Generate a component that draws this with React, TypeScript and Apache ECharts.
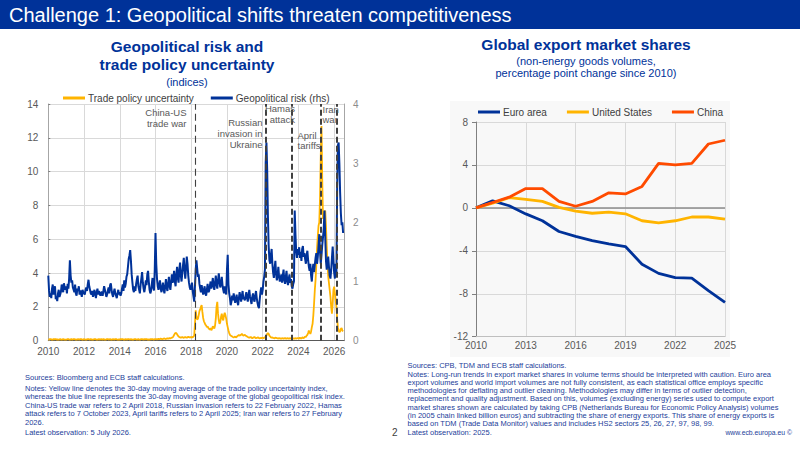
import React, { useEffect, useRef } from "react";
import * as echarts from "echarts";

const FONT = "'Liberation Sans', Arial, Helvetica, sans-serif";
const ECB_BLUE = "#003299";
const YELLOW = "#FFB400";
const ORANGE = "#FF4B00";
const NOTE_BLUE = "#23409a";
const LABEL_GREY = "#595959";
const GRID_GREY = "#d9d9d9";

// ---------- Left chart: semi-monthly observations from 1 January 2010 ----------
const seriesStartYear = 2010;
const observationsPerYear = 24;

// Trade policy uncertainty (lhs, index)
const tradePolicyUncertainty: number[] = [
  // 2010
  0.08, 0.07, 0.09, 0.1, 0.08, 0.06, 0.07, 0.09, 0.08, 0.1, 0.09, 0.07, 0.08, 0.06, 0.07, 0.08, 0.09, 0.07, 0.06, 0.08, 0.09, 0.08, 0.07, 0.06,
  // 2011
  0.07, 0.08, 0.1, 0.09, 0.07, 0.06, 0.08, 0.09, 0.07, 0.08, 0.1, 0.09, 0.08, 0.07, 0.06, 0.08, 0.09, 0.08, 0.07, 0.09, 0.1, 0.08, 0.07, 0.08,
  // 2012
  0.09, 0.08, 0.07, 0.06, 0.08, 0.09, 0.1, 0.08, 0.07, 0.09, 0.08, 0.06, 0.07, 0.08, 0.09, 0.1, 0.08, 0.07, 0.06, 0.08, 0.09, 0.07, 0.08, 0.09,
  // 2013
  0.08, 0.07, 0.09, 0.08, 0.06, 0.07, 0.08, 0.1, 0.09, 0.07, 0.08, 0.09, 0.07, 0.06, 0.08, 0.09, 0.08, 0.07, 0.09, 0.1, 0.08, 0.07, 0.06, 0.08,
  // 2014
  0.07, 0.09, 0.08, 0.1, 0.09, 0.07, 0.06, 0.08, 0.09, 0.08, 0.07, 0.09, 0.1, 0.08, 0.07, 0.09, 0.08, 0.06, 0.07, 0.08, 0.09, 0.1, 0.08, 0.07,
  // 2015
  0.08, 0.09, 0.07, 0.06, 0.08, 0.1, 0.09, 0.08, 0.07, 0.09, 0.08, 0.1, 0.09, 0.07, 0.08, 0.06, 0.07, 0.09, 0.08, 0.1, 0.09, 0.08, 0.07, 0.09,
  // 2016
  0.1, 0.09, 0.08, 0.1, 0.11, 0.09, 0.1, 0.12, 0.11, 0.09, 0.1, 0.12, 0.13, 0.11, 0.1, 0.12, 0.14, 0.12, 0.13, 0.15, 0.14, 0.16, 0.18, 0.2,
  // 2017
  0.25, 0.34, 0.42, 0.47, 0.44, 0.38, 0.3, 0.25, 0.22, 0.2, 0.18, 0.2, 0.22, 0.19, 0.17, 0.2, 0.22, 0.19, 0.18, 0.2, 0.23, 0.21, 0.19, 0.22,
  // 2018
  0.2, 0.22, 0.2, 0.25, 0.3, 1.0, 1.8, 1.4, 1.25, 1.3, 1.5, 1.75, 1.85, 2.0, 2.1, 1.7, 1.35, 1.15, 1.05, 0.95, 0.9, 0.8, 0.85, 0.75,
  // 2019
  0.7, 0.65, 0.75, 0.62, 0.7, 0.85, 0.8, 0.72, 0.9, 1.3, 2.0, 2.3, 1.6, 1.2, 1.0, 1.1, 1.4, 1.6, 1.3, 1.2, 1.5, 1.65, 1.5, 1.3,
  // 2020
  1.0, 0.8, 0.6, 0.45, 0.35, 0.3, 0.28, 0.25, 0.22, 0.2, 0.22, 0.25, 0.2, 0.22, 0.28, 0.3, 0.35, 0.3, 0.32, 0.35, 0.4, 0.35, 0.3, 0.32,
  // 2021
  0.35, 0.3, 0.28, 0.25, 0.22, 0.2, 0.18, 0.2, 0.22, 0.18, 0.15, 0.18, 0.2, 0.22, 0.18, 0.15, 0.16, 0.18, 0.2, 0.15, 0.14, 0.16, 0.15, 0.18,
  // 2022
  0.16, 0.15, 0.18, 0.2, 0.25, 0.3, 0.4, 0.45, 0.4, 0.3, 0.25, 0.2, 0.18, 0.2, 0.16, 0.15, 0.14, 0.18, 0.16, 0.15, 0.14, 0.13, 0.15, 0.14,
  // 2023
  0.12, 0.14, 0.13, 0.15, 0.12, 0.14, 0.16, 0.13, 0.12, 0.15, 0.14, 0.12, 0.13, 0.15, 0.12, 0.14, 0.13, 0.12, 0.14, 0.12, 0.15, 0.13, 0.14, 0.15,
  // 2024
  0.15, 0.12, 0.18, 0.15, 0.12, 0.2, 0.18, 0.15, 0.2, 0.25, 0.22, 0.3, 0.35, 0.45, 0.6, 0.5, 0.4, 0.55, 0.8, 1.0, 1.5, 2.2, 3.0, 3.6,
  // 2025
  4.5, 5.5, 6.2, 6.8, 7.0, 8.5, 11.0, 12.7, 9.5, 7.2, 7.3, 7.6, 7.7, 6.8, 5.6, 4.6, 3.8, 3.4, 3.0, 2.6, 2.0, 1.6, 2.2, 3.0,
  // 2026 (to July)
  3.2, 2.8, 2.4, 2.0, 1.3, 0.8, 0.6, 0.5, 0.55, 0.7, 0.75, 0.6, 0.55,
];

// Geopolitical risk (rhs, index)
const geopoliticalRisk: number[] = [
  // 2010
  1.1, 0.85, 0.74, 0.8, 0.72, 0.88, 0.95, 0.78, 0.84, 0.92, 0.7, 0.75, 0.67, 0.8, 0.86, 0.74, 0.78, 0.83, 0.95, 0.88, 0.82, 0.97, 0.9, 0.86,
  // 2011
  0.92, 0.8, 0.96, 0.88, 1.05, 1.36, 1.1, 0.98, 1.02, 0.9, 0.86, 0.82, 0.95, 0.8, 0.76, 0.88, 0.84, 0.92, 0.78, 0.85, 0.8, 0.74, 0.86, 0.82,
  // 2012
  0.8, 0.78, 0.86, 0.9, 0.84, 0.95, 1.03, 0.92, 0.86, 0.8, 0.78, 0.84, 0.74, 0.8, 0.86, 0.78, 0.72, 0.82, 0.88, 0.78, 0.84, 0.8, 0.76, 0.82,
  // 2013
  0.82, 0.76, 0.84, 0.92, 0.86, 0.8, 0.74, 0.78, 0.85, 0.9, 0.8, 0.94, 0.97, 0.86, 0.78, 0.74, 0.82, 0.88, 0.8, 0.76, 0.72, 0.8, 0.86, 0.78,
  // 2014
  0.82, 0.76, 0.8, 0.88, 0.95, 0.84, 1.02, 0.9, 0.96, 1.08, 1.12, 1.25, 1.38, 1.44, 1.53, 1.35, 1.12, 0.98, 0.86, 0.82, 0.92, 0.84, 0.96, 1.04,
  // 2015
  1.1, 0.92, 0.86, 0.8, 0.95, 1.05, 1.16, 0.98, 0.88, 0.82, 0.9, 1.02, 0.94, 1.12, 1.18, 1.0, 0.86, 0.8, 0.84, 0.95, 1.06, 0.9, 0.85, 1.2,
  // 2016
  1.82, 1.3, 1.05, 0.92, 0.86, 0.95, 1.02, 0.88, 0.82, 0.9, 0.98, 0.86, 0.8, 0.92, 1.04, 0.9, 0.84, 0.96, 1.08, 0.92, 0.86, 1.0, 1.12, 0.98,
  // 2017
  1.05, 1.18, 1.0, 0.92, 1.12, 1.25, 1.06, 0.98, 1.2, 1.32, 1.1, 1.0, 1.15, 1.28, 1.4, 1.18, 1.05, 1.22, 1.42, 1.3, 1.1, 0.98, 0.9, 0.86,
  // 2018
  0.9, 0.98, 0.84, 0.75, 0.66, 0.92, 1.2, 1.36, 1.22, 1.08, 1.12, 0.96, 0.88, 0.82, 0.94, 0.86, 0.78, 0.84, 0.92, 0.8, 0.76, 0.86, 0.96, 0.82,
  // 2019
  0.84, 0.92, 1.0, 0.88, 0.96, 1.06, 0.92, 0.86, 0.98, 1.1, 0.95, 0.88, 1.02, 1.14, 1.0, 0.9, 0.96, 1.08, 0.94, 0.86, 0.8, 0.92, 0.84, 0.78,
  // 2020
  1.2, 1.45, 0.95, 0.8, 0.72, 0.6, 0.66, 0.76, 0.68, 0.8, 0.72, 0.64, 0.7, 0.78, 0.66, 0.6, 0.72, 0.82, 0.74, 0.66, 0.76, 0.84, 0.7, 0.74,
  // 2021
  0.68, 0.76, 0.82, 0.72, 0.66, 0.78, 0.86, 0.74, 0.68, 0.62, 0.74, 0.8, 0.7, 0.66, 0.76, 0.84, 0.72, 0.64, 0.58, 0.55, 0.7, 0.82, 0.9, 0.78,
  // 2022
  0.86, 1.0, 1.08, 1.2, 3.0, 3.35, 2.9, 2.1, 1.6, 1.36, 1.3, 1.45, 1.55, 1.3, 1.15, 1.06, 1.22, 1.35, 1.12, 1.02, 1.1, 1.25, 1.08, 1.0,
  // 2023
  1.05, 1.12, 0.98, 1.1, 1.2, 1.02, 0.96, 1.08, 1.18, 1.0, 0.94, 1.05, 1.12, 0.98, 1.04, 0.92, 0.88, 0.96, 1.0, 2.2, 1.8, 1.5, 1.4, 1.55,
  // 2024
  1.45, 1.58, 1.4, 1.5, 1.35, 1.55, 1.6, 1.42, 1.48, 1.38, 1.3, 1.45, 1.52, 1.36, 1.25, 1.18, 1.3, 1.1, 1.0, 1.2, 1.3, 1.16, 1.28, 1.4,
  // 2025
  1.48, 1.3, 1.42, 1.6, 1.8, 1.5, 1.3, 1.45, 1.62, 1.75, 1.9, 2.2, 1.75, 1.35, 1.2, 1.3, 1.42, 1.25, 1.1, 1.05, 1.2, 1.4, 1.59, 1.35,
  // 2026 (to July)
  1.15, 1.05, 1.3, 1.1, 2.6, 3.3, 3.35, 3.0, 2.5, 2.15, 1.95, 2.0, 1.82,
];

const eventLabels = ["China-US\ntrade war", "Russian\ninvasion in\nUkraine", "Hamas\nattack", "April\ntariffs", "Iran\nwar"];
const eventDates = [2018.22, 2022.15, 2023.62, 2025.25, 2026.13];

// ---------- Right chart: global export market shares ----------
const exportYears = ["2010", "2011", "2012", "2013", "2014", "2015", "2016", "2017", "2018", "2019", "2020", "2021", "2022", "2023", "2024", "2025"];
const euroArea = [0, 0.66, 0.2, -0.56, -1.2, -2.2, -2.65, -3.05, -3.35, -3.6, -5.25, -6.1, -6.5, -6.55, -7.7, -8.8];
const unitedStates = [0, 0.45, 0.95, 0.8, 0.6, 0.05, -0.3, -0.5, -0.4, -0.55, -1.2, -1.4, -1.2, -0.85, -0.85, -1.05];
const china = [0, 0.5, 1.0, 1.8, 1.8, 0.6, 0.15, 0.6, 1.4, 1.3, 2.0, 4.15, 4.0, 4.15, 5.95, 6.3];

const leftNotes = [
  "Sources: Bloomberg and ECB staff calculations.",
  "Notes: Yellow line denotes the 30-day moving average of the trade policy uncertainty index,",
  "whereas the blue line represents the 30-day moving average of the global geopolitical risk index.",
  "China-US trade war refers to 2 April 2018, Russian invasion refers to 22 February 2022, Hamas",
  "attack refers to 7 October 2023, April tariffs refers to 2 April 2025; Iran war refers to 27 February",
  "2026.",
  "Latest observation: 5 July 2026.",
];
const rightNotes = [
  "Sources: CPB, TDM and ECB staff calculations.",
  "Notes: Long-run trends in export market shares in volume terms should be interpreted with caution. Euro area",
  "export volumes and world import volumes are not fully consistent, as each statistical office employs specific",
  "methodologies for deflating and outlier cleaning. Methodologies may differ in terms of outlier detection,",
  "replacement and quality adjustment. Based on this, volumes (excluding energy) series used to compute export",
  "market shares shown are calculated by taking CPB (Netherlands Bureau for Economic Policy Analysis) volumes",
  "(in 2005 chain linked billion euros) and subtracting the share of energy exports. This share of energy exports is",
  "based on TDM (Trade Data Monitor) values and includes HS2 sectors 25, 26, 27, 97, 98, 99.",
  "Latest observation: 2025.",
];

function text(x: number, y: number, t: string, o: any = {}) {
  return {
    type: "text",
    x,
    y,
    silent: true,
    z: o.z ?? 10,
    style: {
      text: t,
      fill: o.fill ?? LABEL_GREY,
      fontSize: o.fontSize ?? 10,
      fontWeight: o.fontWeight ?? "normal",
      fontFamily: FONT,
      align: o.align ?? "left",
      verticalAlign: o.verticalAlign ?? "middle",
      lineHeight: o.lineHeight,
    },
  };
}

export default function App() {
  const ref = useRef<HTMLDivElement>(null);

  useEffect(() => {
    document.body.style.margin = "0";
    if (!ref.current) return;
    const chart = echarts.init(ref.current, undefined, { renderer: "svg" });

    const toPoints = (values: number[]) =>
      values.map((v, i) => [seriesStartYear + i / observationsPerYear, v]);

    const leftNoteY = [377.5, 388, 396.6, 405.2, 413.8, 422.4, 432];
    const rightNoteY = [365, 374, 382.3, 390.6, 398.9, 407.2, 415.5, 423.8, 432];

    const graphics: any[] = [
      { type: "rect", silent: true, z: -10, shape: { x: 0, y: 0, width: 800, height: 29 }, style: { fill: ECB_BLUE } },
      text(9, 14.5, "Challenge 1: Geopolitical shifts threaten competitiveness", { fill: "#ffffff", fontSize: 20 }),
      { type: "rect", silent: true, z: -10, shape: { x: 450, y: 101, width: 280, height: 256 }, style: { fill: "#f8f8f8" } },
      // left titles
      text(187, 46.5, "Geopolitical risk and", { fill: ECB_BLUE, fontSize: 15.5, fontWeight: "bold", align: "center" }),
      text(187, 64.5, "trade policy uncertainty", { fill: ECB_BLUE, fontSize: 15.5, fontWeight: "bold", align: "center" }),
      text(187, 81.5, "(indices)", { fill: ECB_BLUE, fontSize: 11, align: "center" }),
      // right titles
      text(586, 44, "Global export market shares", { fill: ECB_BLUE, fontSize: 15.5, fontWeight: "bold", align: "center" }),
      text(586, 60.7, "(non-energy goods volumes,", { fill: ECB_BLUE, fontSize: 11, align: "center" }),
      text(586, 73.3, "percentage point change since 2010)", { fill: ECB_BLUE, fontSize: 11, align: "center" }),
      // event labels
      text(186.5, 107.3, eventLabels[0], { fontSize: 9.5, lineHeight: 10.8, align: "right", verticalAlign: "top" }),
      text(262.5, 117.3, eventLabels[1], { fontSize: 9.5, lineHeight: 10.8, align: "right", verticalAlign: "top" }),
      text(295, 102.9, eventLabels[2], { fontSize: 9.5, lineHeight: 10.8, align: "right", verticalAlign: "top" }),
      text(297.5, 129.8, eventLabels[3], { fontSize: 9.5, lineHeight: 10.4, align: "left", verticalAlign: "top" }),
      text(322.5, 103.6, eventLabels[4], { fontSize: 9.5, lineHeight: 10.8, align: "left", verticalAlign: "top" }),
      // footer
      text(392, 432, "2", { fill: "#404040", fontSize: 10 }),
      text(792, 432, "www.ecb.europa.eu ©", { fill: NOTE_BLUE, fontSize: 6.8, align: "right" }),
    ];
    leftNotes.forEach((t, i) => graphics.push(text(25, leftNoteY[i], t, { fill: NOTE_BLUE, fontSize: 7.5 })));
    rightNotes.forEach((t, i) => graphics.push(text(407.5, rightNoteY[i], t, { fill: NOTE_BLUE, fontSize: 7.5 })));

    const axisLabel = { color: LABEL_GREY, fontSize: 10, fontFamily: FONT };

    chart.setOption({
      animation: false,
      textStyle: { fontFamily: FONT },
      graphic: { elements: graphics },
      legend: [
        {
          data: ["Trade policy uncertainty", "Geopolitical risk (rhs)"],
          left: 58,
          top: 88,
          icon: "rect",
          itemWidth: 22,
          itemHeight: 3,
          itemGap: 17,
          textStyle: { color: "#404040", fontSize: 10, fontFamily: FONT, padding: [0, 0, 0, -2] },
        },
        {
          data: ["Euro area", "United States", "China"],
          left: 473,
          top: 102,
          icon: "rect",
          itemWidth: 22,
          itemHeight: 3,
          itemGap: 20,
          textStyle: { color: "#404040", fontSize: 10, fontFamily: FONT, padding: [0, 0, 0, -2] },
        },
      ],
      grid: [
        { left: 48.3, top: 104, width: 295.7, height: 236.7 },
        { left: 476, top: 122, width: 249, height: 214.7 },
      ],
      xAxis: [
        {
          type: "value",
          gridIndex: 0,
          min: 2010,
          max: 2026.55,
          interval: 2,
          axisLine: { show: true, onZero: false, lineStyle: { color: "#595959", width: 1 } },
          axisTick: { show: false },
          axisLabel: {
            ...axisLabel,
            margin: 6,
            showMaxLabel: false,
            formatter: (v: number) => (Math.abs(v - Math.round(v)) < 1e-6 && Math.round(v) % 2 === 0 ? String(Math.round(v)) : ""),
          },
          splitLine: { show: true, lineStyle: { color: GRID_GREY, width: 1 } },
        },
        {
          type: "category",
          gridIndex: 1,
          data: exportYears,
          boundaryGap: false,
          axisLine: { show: true, onZero: false, lineStyle: { color: "#bfbfbf" } },
          axisTick: { show: false },
          axisLabel: { ...axisLabel, interval: 2, margin: 4 },
          splitLine: { show: true, interval: 2, lineStyle: { color: GRID_GREY } },
        },
      ],
      yAxis: [
        {
          type: "value",
          gridIndex: 0,
          min: 0,
          max: 14,
          interval: 2,
          axisLine: { show: true, lineStyle: { color: "#a6a6a6" } },
          axisTick: { show: true, inside: true, length: 2, lineStyle: { color: "#808080" } },
          axisLabel: { ...axisLabel, margin: 10 },
          splitLine: { show: true, lineStyle: { color: GRID_GREY } },
        },
        {
          type: "value",
          gridIndex: 0,
          position: "right",
          min: 0,
          max: 4,
          interval: 1,
          axisLine: { show: true, lineStyle: { color: "#a6a6a6" } },
          axisTick: { show: false },
          axisLabel: { ...axisLabel, color: "#8c8c8c", margin: 9 },
          splitLine: { show: false },
        },
        {
          type: "value",
          gridIndex: 1,
          min: -12,
          max: 8,
          interval: 4,
          axisLine: { show: true, lineStyle: { color: "#808080" } },
          axisTick: { show: true, length: 4, lineStyle: { color: "#808080" } },
          axisLabel: { ...axisLabel, margin: 8 },
          splitLine: { show: true, lineStyle: { color: GRID_GREY } },
        },
      ],
      series: [
        {
          name: "Trade policy uncertainty",
          type: "line",
          xAxisIndex: 0,
          yAxisIndex: 0,
          data: toPoints(tradePolicyUncertainty),
          showSymbol: false,
          symbol: "none",
          lineStyle: { color: YELLOW, width: 1.8 },
          itemStyle: { color: YELLOW },
          markLine: {
            silent: true,
            symbol: ["none", "none"],
            label: { show: false },
            z: 5,
            data: eventDates.map((d, i) => ({
              xAxis: d,
              lineStyle: { color: "#404040", type: i === 0 ? [7, 4] : [6, 3], width: i === 0 ? 1.1 : 2 },
            })),
          },
        },
        {
          name: "Geopolitical risk (rhs)",
          type: "line",
          xAxisIndex: 0,
          yAxisIndex: 1,
          data: toPoints(geopoliticalRisk),
          showSymbol: false,
          symbol: "none",
          lineStyle: { color: ECB_BLUE, width: 2 },
          itemStyle: { color: ECB_BLUE },
        },
        {
          name: "Euro area",
          type: "line",
          xAxisIndex: 1,
          yAxisIndex: 2,
          data: euroArea,
          showSymbol: false,
          symbol: "none",
          lineStyle: { color: ECB_BLUE, width: 2.8 },
          itemStyle: { color: ECB_BLUE },
          markLine: {
            silent: true,
            symbol: ["none", "none"],
            label: { show: false },
            z: 1,
            data: [{ yAxis: 0, lineStyle: { color: "#8c8c8c", type: "solid", width: 1.5 } }],
          },
        },
        {
          name: "United States",
          type: "line",
          xAxisIndex: 1,
          yAxisIndex: 2,
          data: unitedStates,
          showSymbol: false,
          symbol: "none",
          lineStyle: { color: YELLOW, width: 2.8 },
          itemStyle: { color: YELLOW },
        },
        {
          name: "China",
          type: "line",
          xAxisIndex: 1,
          yAxisIndex: 2,
          data: china,
          showSymbol: false,
          symbol: "none",
          lineStyle: { color: ORANGE, width: 2.8 },
          itemStyle: { color: ORANGE },
        },
      ],
    });

    return () => chart.dispose();
  }, []);

  return <div ref={ref} style={{ width: 800, height: 450 }} />;
}
